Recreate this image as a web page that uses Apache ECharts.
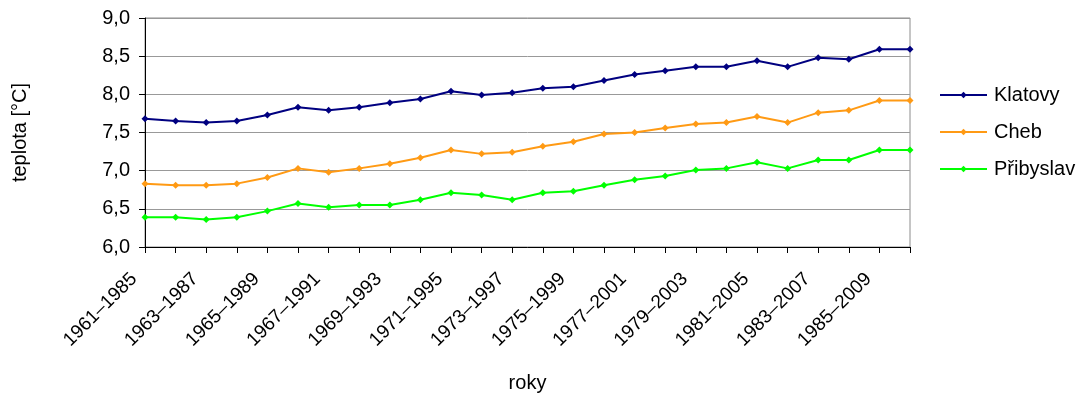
<!DOCTYPE html>
<html>
<head>
<meta charset="utf-8">
<script src="https://cdn.jsdelivr.net/npm/echarts@6/dist/echarts.min.js"></script>
<style>
  html, body { margin: 0; padding: 0; background: #fff; }
  #chart { width: 1087px; height: 403px; }
</style>
</head>
<body>
<div id="chart"></div>
<script>
// 25-year moving periods
const periods = [
  '1961–1985', '1962–1986', '1963–1987', '1964–1988', '1965–1989', '1966–1990',
  '1967–1991', '1968–1992', '1969–1993', '1970–1994', '1971–1995', '1972–1996',
  '1973–1997', '1974–1998', '1975–1999', '1976–2000', '1977–2001', '1978–2002',
  '1979–2003', '1980–2004', '1981–2005', '1982–2006', '1983–2007', '1984–2008',
  '1985–2009', '1986–2010'
];

// mean annual temperature [°C] per station
const klatovy = [7.68, 7.65, 7.63, 7.65, 7.73, 7.83, 7.79, 7.83, 7.89, 7.94, 8.04, 7.99, 8.02,
                 8.08, 8.10, 8.18, 8.26, 8.31, 8.36, 8.36, 8.44, 8.36, 8.48, 8.46, 8.59, 8.59];
const cheb    = [6.83, 6.81, 6.81, 6.83, 6.91, 7.03, 6.98, 7.03, 7.09, 7.17, 7.27, 7.22, 7.24,
                 7.32, 7.38, 7.48, 7.50, 7.56, 7.61, 7.63, 7.71, 7.63, 7.76, 7.79, 7.92, 7.92];
const pribyslav = [6.39, 6.39, 6.36, 6.39, 6.47, 6.57, 6.52, 6.55, 6.55, 6.62, 6.71, 6.68, 6.62,
                   6.71, 6.73, 6.81, 6.88, 6.93, 7.01, 7.03, 7.11, 7.03, 7.14, 7.14, 7.27, 7.27];

const yTicks = { min: 6, max: 9, step: 0.5 };

const FONT = '"Liberation Sans", Arial, sans-serif';

const chart = echarts.init(document.getElementById('chart'), null, { renderer: 'canvas' });

function lineSeries(name, data, color) {
  return {
    name: name,
    type: 'line',
    data: data,
    symbol: 'diamond',
    symbolSize: 7,
    showSymbol: true,
    lineStyle: { color: color, width: 2 },
    itemStyle: { color: color },
    emphasis: { disabled: true },
    animation: false
  };
}

chart.setOption({
  animation: false,
  textStyle: { fontFamily: FONT },
  grid: [
    // plot area
    { left: 145, right: 177, top: 18, bottom: 156,
      show: true, borderColor: '#8c8c8c', borderWidth: 1, backgroundColor: '#fff' },
    // same width, nudged left: carries the slanted period labels
    { left: 134, right: 188, top: 18, bottom: 156, show: false }
  ],
  legend: {
    orient: 'vertical',
    left: 939,
    top: 85,
    padding: 0,
    itemWidth: 47,
    itemHeight: 8,
    itemGap: 17,
    textStyle: { fontFamily: FONT, fontSize: 20, color: '#000', lineHeight: 20, padding: [0, 0, 0, 2] },
    data: ['Klatovy', 'Cheb', 'Přibyslav']
  },
  xAxis: [
    {
      type: 'category',
      gridIndex: 0,
      data: periods,
      boundaryGap: false,
      name: 'roky',
      nameLocation: 'middle',
      nameGap: 126,
      nameTextStyle: { fontFamily: FONT, fontSize: 20, color: '#000' },
      axisLine: { lineStyle: { color: '#000', width: 1 } },
      axisTick: { show: true, interval: 0, length: 6, lineStyle: { color: '#000' } },
      axisLabel: { show: false },
      splitLine: { show: false }
    },
    {
      type: 'category',
      gridIndex: 1,
      data: periods,
      boundaryGap: false,
      axisLine: { show: false },
      axisTick: { show: false },
      axisLabel: {
        interval: 1, rotate: 45, margin: 29,
        fontFamily: FONT, fontSize: 19, color: '#000'
      },
      splitLine: { show: false }
    }
  ],
  yAxis: [
    {
      type: 'value',
      gridIndex: 0,
      min: yTicks.min, max: yTicks.max, interval: yTicks.step,
      name: 'teplota [°C]',
      nameLocation: 'middle',
      nameGap: 115,
      nameRotate: 90,
      nameTextStyle: { fontFamily: FONT, fontSize: 20, color: '#000' },
      axisLine: { show: true, lineStyle: { color: '#000', width: 1 } },
      axisTick: { show: true, length: 6, lineStyle: { color: '#000' } },
      axisLabel: {
        margin: 15, fontFamily: FONT, fontSize: 20, color: '#000',
        formatter: v => v.toFixed(1).replace('.', ',')
      },
      splitLine: { show: true, lineStyle: { color: '#999', width: 1 } }
    },
    {
      type: 'value',
      gridIndex: 1,
      min: yTicks.min, max: yTicks.max, interval: yTicks.step,
      show: false
    }
  ],
  series: [
    lineSeries('Klatovy', klatovy, '#000080'),
    lineSeries('Cheb', cheb, '#ff9a14'),
    lineSeries('Přibyslav', pribyslav, '#00ff00')
  ]
});
</script>
</body>
</html>
